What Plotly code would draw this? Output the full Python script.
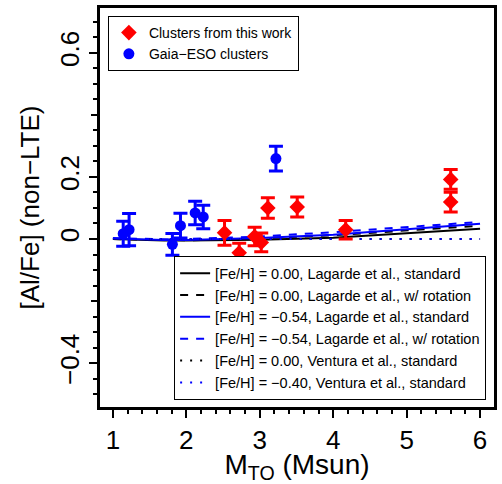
import plotly.graph_objects as go

# ---------------- data ----------------
# Clusters from this work (red diamonds)
work_mass = [2.52, 2.72, 2.93, 3.02, 3.11, 3.51, 4.17, 5.60, 5.60]
work_alfe = [0.020, -0.044, 0.008, -0.011, 0.100, 0.103, 0.030, 0.192, 0.119]
work_err = [0.040, 0.030, 0.030, 0.030, 0.033, 0.032, 0.030, 0.032, 0.032]

# Gaia-ESO clusters (blue circles)
ges_mass = [1.14, 1.22, 1.81, 1.92, 2.12, 2.23, 3.22]
ges_alfe = [0.017, 0.030, -0.017, 0.043, 0.084, 0.071, 0.259]
ges_err = [0.040, 0.052, 0.035, 0.040, 0.038, 0.038, 0.040]

# Lagarde et al. model tracks
lag_mass = [1.0, 1.25, 1.5, 1.7, 2.0, 2.5, 3.0, 4.0, 6.0]
lag_std_000 = [0.000, -0.002, -0.004, -0.005, -0.005, -0.004, -0.002, 0.004, 0.033]
lag_rot_000 = [0.000, -0.001, -0.003, -0.004, -0.004, -0.002, 0.002, 0.012, 0.043]
lag_std_054 = [0.002, 0.000, -0.002, -0.003, -0.003, -0.001, 0.003, 0.014, 0.049]
lag_rot_054 = [0.003, 0.001, -0.001, -0.001, 0.000, 0.003, 0.008, 0.022, 0.055]

# Ventura et al. model tracks
ven_mass = [1.5, 2.0, 2.5, 3.0, 3.5, 4.0, 4.5, 5.0, 5.5, 6.0]
ven_std_000 = [0.0, 0.0, 0.0, 0.0, 0.0, 0.0, 0.0, 0.0, 0.0, 0.0]
ven_std_040 = [0.0, 0.0, 0.0, 0.0, 0.0, 0.0, 0.0, 0.0, 0.0, 0.0]

y_labeled_vals = [-0.4, 0.0, 0.2, 0.6]
y_labeled_text = ["\u22120.4", "0", "0.2", "0.6"]
y_unlabeled_vals = [-0.2, 0.4]
x_tickvals = [1, 2, 3, 4, 5, 6]
x_ticktext = ["1", "2", "3", "4", "5", "6"]

X_RANGE = [0.824, 6.19]
Y_RANGE = [-0.541, 0.744]

FONT = "Liberation Sans, Arial, Helvetica, sans-serif"

fig = go.Figure()

# empty helper trace so the unlabeled-major-tick axis (y2) is drawn
fig.add_trace(go.Scatter(x=[], y=[], yaxis="y2", showlegend=False, hoverinfo="skip"))

models = [
    (lag_mass, lag_std_000, "black", "solid", "[Fe/H] = 0.00, Lagarde et al., standard"),
    (lag_mass, lag_rot_000, "black", "8px,8px", "[Fe/H] = 0.00, Lagarde et al., w/ rotation"),
    (lag_mass, lag_std_054, "blue", "solid", "[Fe/H] = \u22120.54, Lagarde et al., standard"),
    (lag_mass, lag_rot_054, "blue", "8px,8px", "[Fe/H] = \u22120.54, Lagarde et al., w/ rotation"),
    (ven_mass, ven_std_000, "black", "2px,8px", "[Fe/H] = 0.00, Ventura et al., standard"),
    (ven_mass, ven_std_040, "blue", "2px,8px", "[Fe/H] = \u22120.40, Ventura et al., standard"),
]
for xs, ys, col, dash, name in models:
    fig.add_trace(go.Scatter(
        x=xs, y=ys, mode="lines", name=name,
        line=dict(color=col, width=2, dash=dash),
        legend="legend2",
    ))

fig.add_trace(go.Scatter(
    x=ges_mass, y=ges_alfe, mode="markers", name="Gaia\u2212ESO clusters",
    marker=dict(symbol="circle", size=11, color="blue"),
    error_y=dict(type="data", array=ges_err, color="blue", thickness=3, width=7),
    legend="legend", legendrank=2,
))
fig.add_trace(go.Scatter(
    x=work_mass, y=work_alfe, mode="markers", name="Clusters from this work",
    marker=dict(symbol="diamond", size=12, color="red"),
    error_y=dict(type="data", array=work_err, color="red", thickness=3, width=7),
    legend="legend", legendrank=1,
))

fig.update_layout(
    width=502, height=484,
    margin=dict(l=100, r=6, t=5, b=74),
    paper_bgcolor="white", plot_bgcolor="white",
    font=dict(family=FONT, color="black", size=25),
    legend=dict(
        x=0.02, y=0.98, xanchor="left", yanchor="top",
        bordercolor="black", borderwidth=1, bgcolor="white",
        font=dict(size=14, family=FONT),
    ),
    legend2=dict(
        x=0.98, y=0.017, xanchor="right", yanchor="bottom",
        bordercolor="black", borderwidth=1, bgcolor="white",
        font=dict(size=14.5, family=FONT),
    ),
    xaxis=dict(
        range=X_RANGE,
        tickvals=x_tickvals, ticktext=x_ticktext,
        ticks="outside", ticklen=8, tickwidth=2, tickcolor="black",
        minor=dict(dtick=0.2, tick0=0, ticks="outside", ticklen=4, tickwidth=2, tickcolor="black"),
        showline=True, linewidth=3, linecolor="black", mirror=True,
        showgrid=False, zeroline=False,
        tickfont=dict(size=26),
        title=dict(text="M<sub>TO</sub> (Msun)", font=dict(size=28), standoff=4),
    ),
    yaxis=dict(
        range=Y_RANGE,
        tickvals=y_labeled_vals, ticktext=y_labeled_text, tickangle=-90,
        ticks="outside", ticklen=8, tickwidth=2, tickcolor="black",
        minor=dict(dtick=0.05, tick0=0, ticks="outside", ticklen=4, tickwidth=2, tickcolor="black"),
        showline=True, linewidth=3, linecolor="black", mirror=True,
        showgrid=False, zeroline=False,
        tickfont=dict(size=26),
        title=dict(text="[Al/Fe] (non\u2212LTE)", font=dict(size=26), standoff=8),
    ),
    yaxis2=dict(
        range=Y_RANGE, overlaying="y", side="left",
        tickvals=y_unlabeled_vals, showticklabels=False,
        ticks="outside", ticklen=8, tickwidth=2, tickcolor="black",
        showline=False, showgrid=False, zeroline=False,
    ),
)

fig.write_html("out.html")
